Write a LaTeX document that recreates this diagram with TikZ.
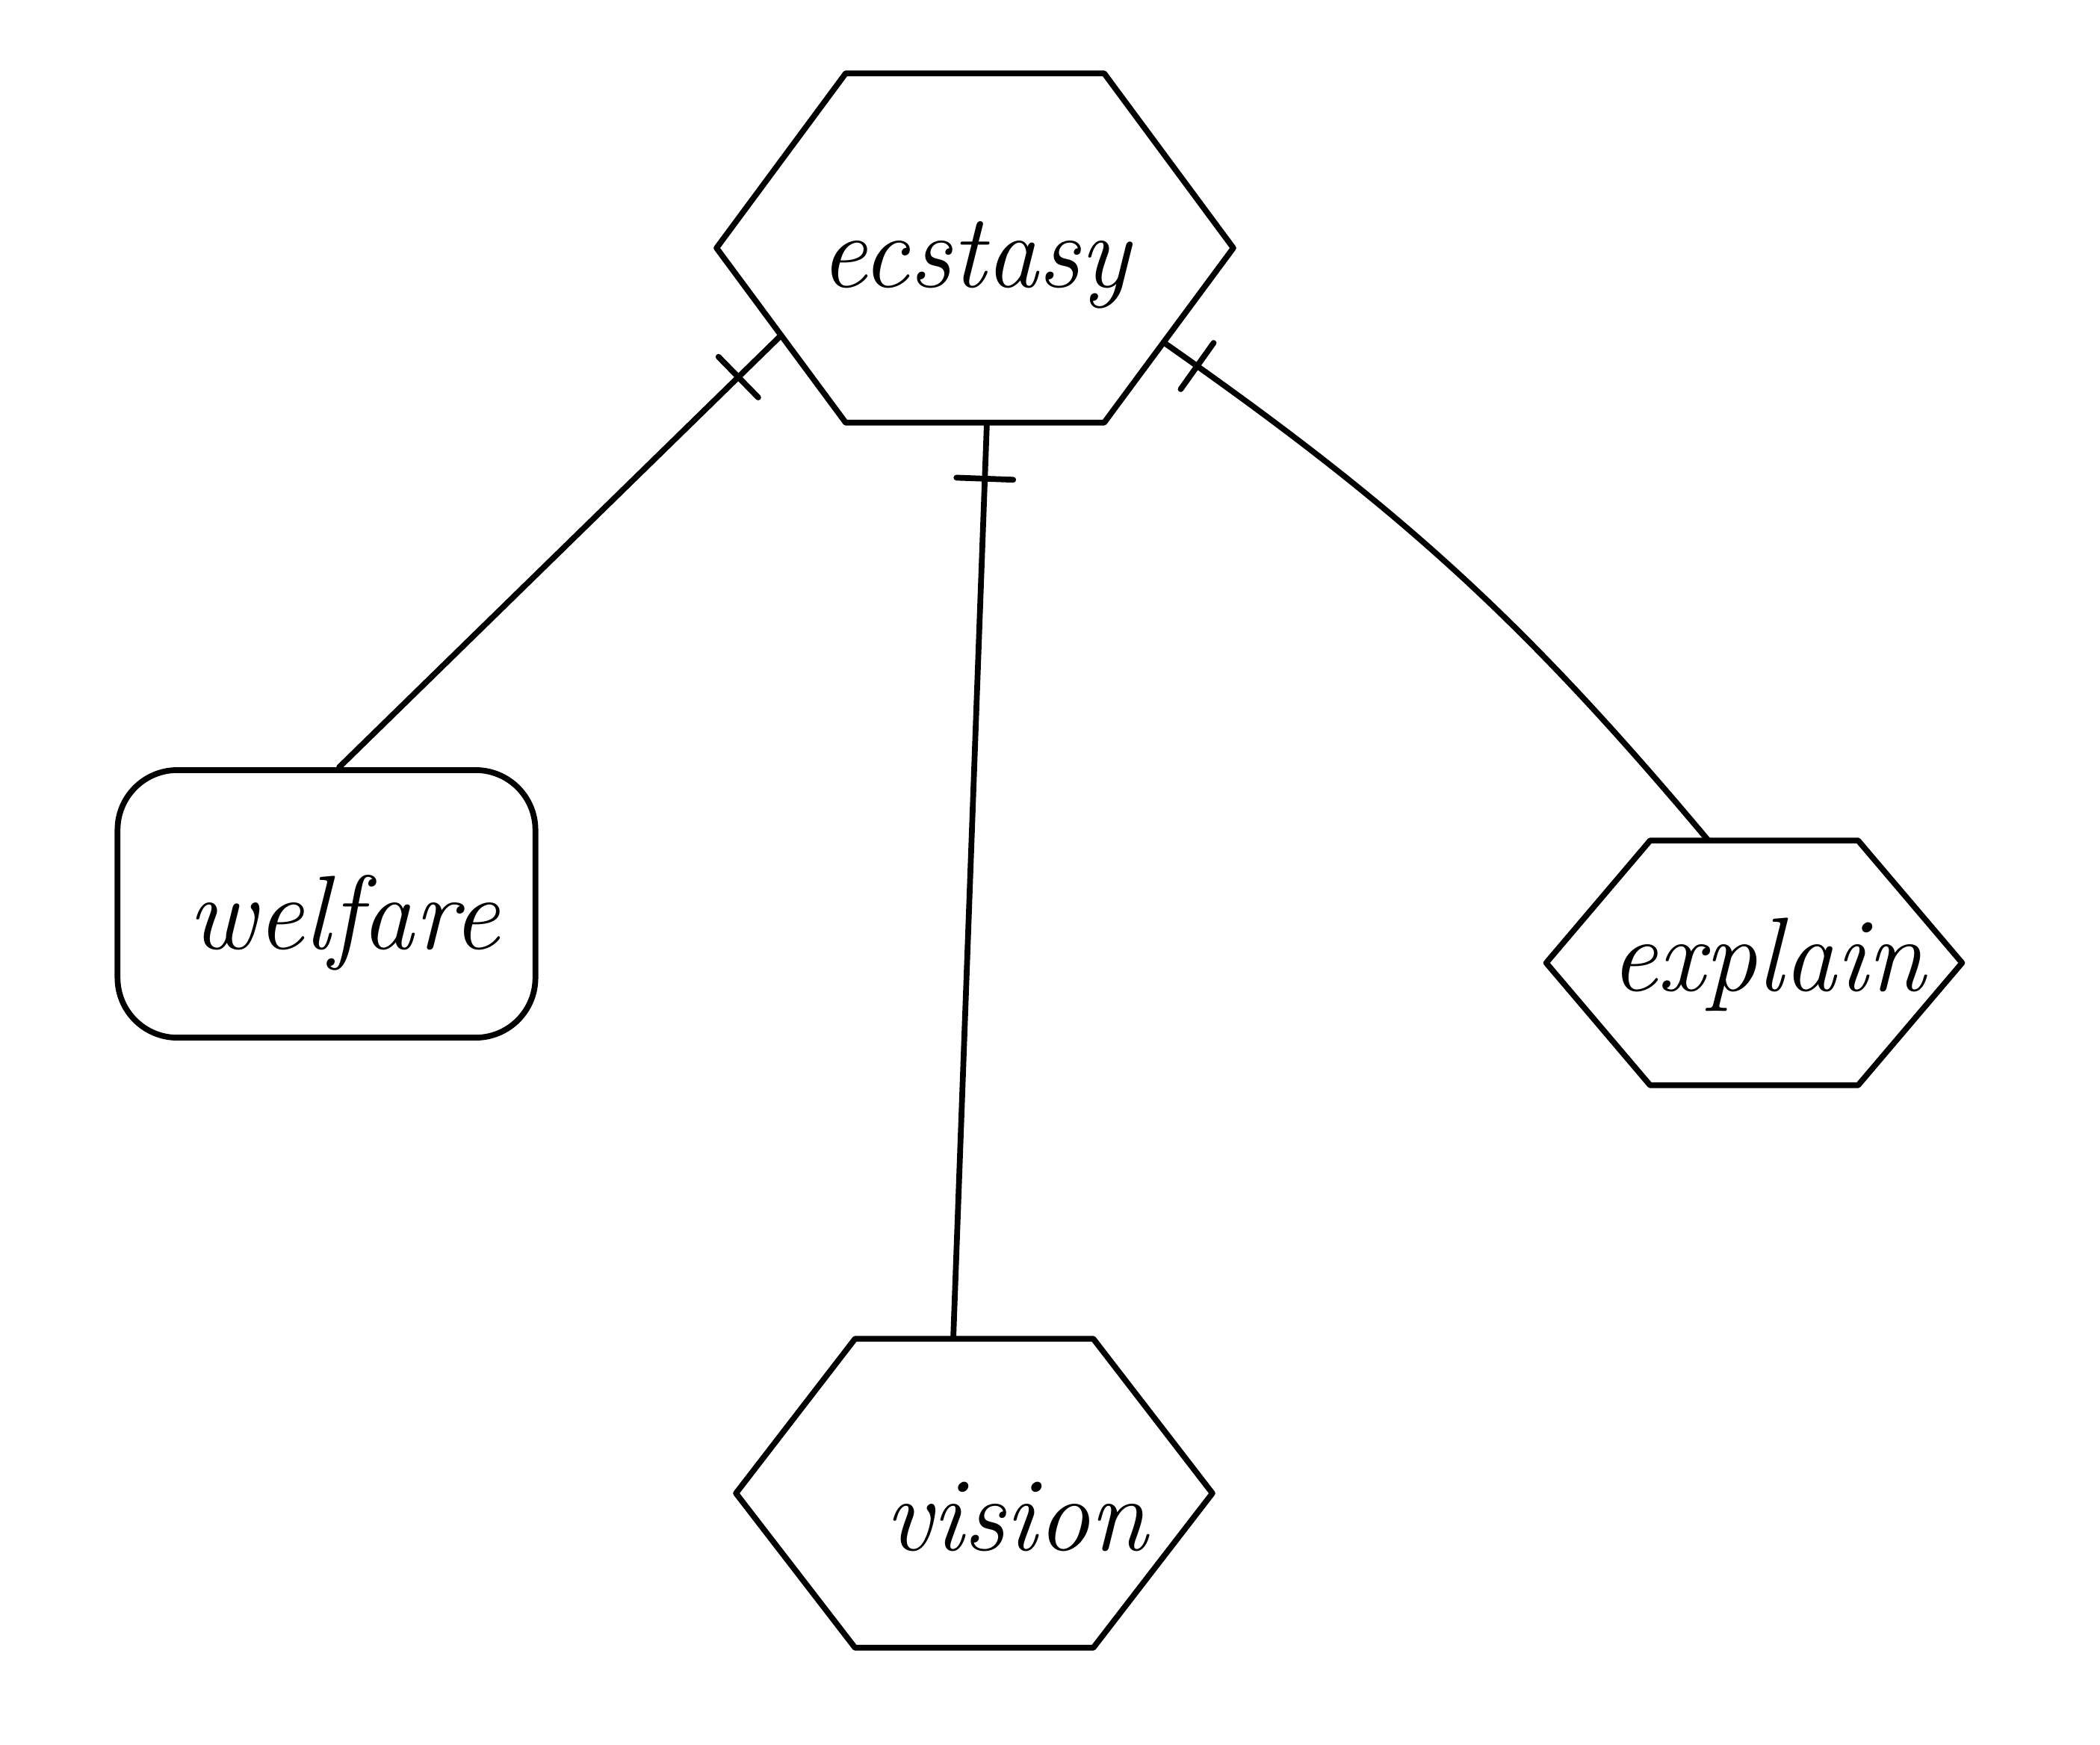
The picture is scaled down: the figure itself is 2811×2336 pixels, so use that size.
\documentclass[tikz,border=0pt]{standalone}
\usetikzlibrary{calc,decorations.markings}
\tikzset{
  ln/.style={line width=2.2pt, line cap=round, line join=round},
  box/.style={draw=none, inner sep=0pt, font=\fontsize{40}{48}\selectfont\itshape},
  rbox/.style={box, draw, ln, rounded corners=0.8cm},
  onebar/.style={postaction={decorate,decoration={markings,
     mark=at position #1 with {\draw[ln] (0,-0.38cm)--(0,0.38cm);}}}}
}
\begin{document}
\begin{tikzpicture}[x=0.01cm,y=-0.01cm]
\useasboundingbox (0,0) rectangle (2811,2336);
\node[box, minimum width=6.9cm, minimum height=4.66cm] (e) at (1305,332) {};
\node[box] (et) at (1305,355) {ecstasy};
\node[rbox, minimum width=5.59cm, minimum height=3.58cm] (w) at (437,1210) {};
\node[box] (wt) at (460,1235) {welfare};
\node[box, minimum width=5.55cm, minimum height=3.26cm] (x) at (2348,1289) {};
\node[box] (xt) at (2366,1291) {explain};
\node[box, minimum width=6.36cm, minimum height=4.12cm] (v) at (1304,1999) {};
\node[box] (vt) at (1360,2030) {vision};
\foreach \n in {e,x,v} {
  \draw[ln] (\n.west) -- ($(\n.north west)!0.25!(\n.north east)$)
    -- ($(\n.north west)!0.75!(\n.north east)$) -- (\n.east)
    -- ($(\n.south west)!0.75!(\n.south east)$)
    -- ($(\n.south west)!0.25!(\n.south east)$) -- cycle;
}
\coordinate (e1) at ($(e.west)!0.5!($(e.south west)!0.25!(e.south east)$)$);
\coordinate (e2) at ($(e.south)+(16,0)$);
\coordinate (e3) at ($(e.east)!0.54!($(e.south west)!0.75!(e.south east)$)$);
\coordinate (w1) at ($(w.north west)!0.53!(w.north east)$);
\coordinate (v1) at ($(v.north)+(-28,0)$);
\coordinate (x1) at ($(x.north west)!0.39!(x.north east)$);
\draw[ln, onebar=0.8cm] (e1) -- (w1);
\draw[ln, onebar=0.75cm] (e2) -- (v1);
\draw[ln, onebar=0.55cm] (e3) to[out=-35, in=130] (x1);
\end{tikzpicture}
\end{document}
